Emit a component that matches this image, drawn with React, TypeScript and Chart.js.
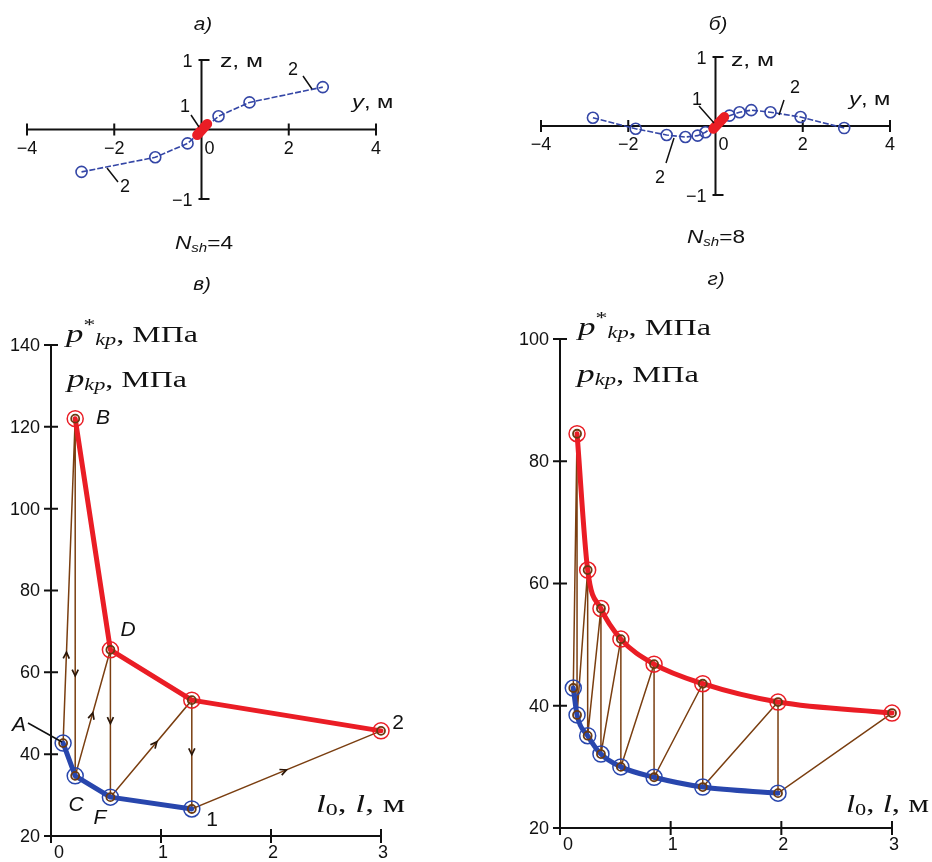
import React, { useEffect, useRef } from "react";
import { Chart, registerables } from "chart.js";
Chart.register(...registerables);

// ---------- Panel а (N_sh = 4): blade axis, y and z in m ----------
const bladeA_y = [-2.75, -1.06, -0.32, 0.39, 1.1, 2.78];
const bladeA_z = [-0.61, -0.4, -0.2, 0.19, 0.39, 0.61];
const hubA_y = [-0.1, 0.13];
const hubA_z = [-0.08, 0.08];

// ---------- Panel б (N_sh = 8) ----------
const bladeB_y = [-2.81, -1.83, -1.12, -0.69, -0.41, -0.23, 0.32, 0.55, 0.82, 1.26, 1.95, 2.95];
const bladeB_z = [0.12, -0.04, -0.13, -0.16, -0.14, -0.09, 0.15, 0.2, 0.23, 0.2, 0.13, -0.03];
const hubB_y = [-0.05, 0.2];
const hubB_z = [-0.04, 0.13];

const topTicksY = [-4, -2, 0, 2, 4];
const topTicksZ = [-1, 1];

// ---------- Panel в: p_kp(l0) (blue) and p*_kp(l) (red) ----------
const v_l0 = [0.11, 0.22, 0.54, 1.28];
const v_pkp = [42.7, 34.7, 29.5, 26.6];
const v_l = [0.22, 0.54, 1.28, 3.0];
const v_pkpStar = [122, 65.5, 53.2, 45.7];
const vTicksY = [20, 40, 60, 80, 100, 120, 140];

// ---------- Panel г ----------
const g_l0 = [0.12, 0.154, 0.25, 0.37, 0.55, 0.85, 1.29, 1.97];
const g_pkp = [42.9, 38.5, 35.1, 32.1, 30.0, 28.3, 26.7, 25.7];
const g_l = [0.154, 0.25, 0.37, 0.55, 0.85, 1.29, 1.97, 3.0];
const g_pkpStar = [84.5, 62.2, 55.9, 50.9, 46.8, 43.6, 40.6, 38.8];
const gTicksY = [20, 40, 60, 80, 100];

const bottomTicksX = [0, 1, 2, 3];

// ---------- styles ----------
const SANS = '"Liberation Sans", Arial, sans-serif';
const SERIF = '"Liberation Serif", "Times New Roman", serif';
const RED = "#ea1d25";
const BLUE_TOP = "#3446a6";
const BLUE = "#2846ad";
const BROWN = "#7a3e10";
const INK = "#111111";
const CLEAR = "rgba(0,0,0,0)";

type Seg = { t: string; f: string; dy?: number };

function rich(
  ctx: CanvasRenderingContext2D,
  segs: Seg[],
  x: number,
  y: number,
  opt: { w?: number; sx?: number; align?: "left" | "center" } = {}
) {
  let w = 0;
  for (const s of segs) {
    ctx.font = s.f;
    w += ctx.measureText(s.t).width;
  }
  const sx = opt.w ? opt.w / w : opt.sx || 1;
  ctx.save();
  ctx.translate(x, y);
  ctx.scale(sx, 1);
  ctx.textAlign = "left";
  ctx.textBaseline = "alphabetic";
  ctx.fillStyle = INK;
  let cx = opt.align === "center" ? -w / 2 : 0;
  for (const s of segs) {
    ctx.font = s.f;
    ctx.fillText(s.t, cx, s.dy || 0);
    cx += ctx.measureText(s.t).width;
  }
  ctx.restore();
}

function fmt(v: number) {
  return v < 0 ? "\u2212" + String(-v) : String(v);
}

function pts(xs: number[], ys: number[]) {
  return xs.map((x, i) => ({ x, y: ys[i] }));
}

function interleave(bx: number[], by: number[], rx: number[], ry: number[]) {
  const out: { x: number; y: number }[] = [];
  for (let i = 0; i < bx.length; i++) {
    out.push({ x: bx[i], y: by[i] });
    out.push({ x: rx[i], y: ry[i] });
  }
  return out;
}

function line(ctx: CanvasRenderingContext2D, x1: number, y1: number, x2: number, y2: number) {
  ctx.moveTo(x1, y1);
  ctx.lineTo(x2, y2);
}

function baseOptions(padding: any, xMin: number, xMax: number, yMin: number, yMax: number) {
  return {
    responsive: false,
    animation: false as const,
    events: [] as any[],
    layout: { padding },
    plugins: { legend: { display: false }, tooltip: { enabled: false }, title: { display: false } },
    scales: {
      x: { type: "linear" as const, min: xMin, max: xMax, display: false },
      y: { type: "linear" as const, min: yMin, max: yMax, display: false },
    },
  };
}

// ---------- top panels ----------
type TopSpec = {
  padding: any;
  bladeY: number[];
  bladeZ: number[];
  hubY: number[];
  hubZ: number[];
  title: string;
  titleX: number;
  titleY: number;
  nsh: string;
  nshX: number;
  nshY: number;
  zLab: [number, number];
  yLab: [number, number];
  labels: { t: string; x: number; y: number }[];
  leaders: number[][];
  xLabDy: number;
};

function topConfig(s: TopSpec): any {
  const plugin = {
    id: "topAxes",
    beforeDatasetsDraw(chart: any) {
      const ctx: CanvasRenderingContext2D = chart.ctx;
      const xs = chart.scales.x;
      const ys = chart.scales.y;
      const xc = xs.getPixelForValue(0);
      const yc = ys.getPixelForValue(0);
      ctx.save();
      ctx.strokeStyle = INK;
      ctx.lineWidth = 2;
      ctx.beginPath();
      line(ctx, xs.getPixelForValue(topTicksY[0]), yc, xs.getPixelForValue(topTicksY[topTicksY.length - 1]), yc);
      line(ctx, xc, ys.getPixelForValue(topTicksZ[1]), xc, ys.getPixelForValue(topTicksZ[0]));
      for (const t of topTicksY) {
        if (t === 0) continue;
        const px = xs.getPixelForValue(t);
        line(ctx, px, yc - 6, px, yc + 6);
      }
      for (const t of topTicksZ) {
        const py = ys.getPixelForValue(t);
        line(ctx, xc - 3, py, xc + 8, py);
      }
      ctx.stroke();
      ctx.fillStyle = INK;
      ctx.font = `18px ${SANS}`;
      ctx.textBaseline = "middle";
      ctx.textAlign = "center";
      for (const t of topTicksY) {
        const px = xs.getPixelForValue(t) + (t === 0 ? 8 : 0);
        ctx.fillText(fmt(t), px, yc + s.xLabDy);
      }
      ctx.textAlign = "right";
      for (const t of topTicksZ) {
        ctx.fillText(fmt(t), xc - 9, ys.getPixelForValue(t) + 2);
      }
      ctx.restore();
    },
    afterDatasetsDraw(chart: any) {
      const ctx: CanvasRenderingContext2D = chart.ctx;
      ctx.save();
      rich(ctx, [{ t: s.title, f: `italic 18px ${SANS}` }], s.titleX, s.titleY, { align: "center", sx: 1.15 });
      rich(ctx, [{ t: "z", f: `19px ${SANS}` }, { t: ", м", f: `19px ${SANS}` }], s.zLab[0], s.zLab[1], { sx: 1.3 });
      rich(ctx, [{ t: "y", f: `italic 19px ${SANS}` }, { t: ", м", f: `19px ${SANS}` }], s.yLab[0], s.yLab[1], { sx: 1.25 });
      rich(
        ctx,
        [
          { t: "N", f: `italic 18px ${SANS}` },
          { t: "sh", f: `italic 12px ${SANS}`, dy: 3 },
          { t: s.nsh, f: `18px ${SANS}` },
        ],
        s.nshX,
        s.nshY,
        { w: 58 }
      );
      ctx.fillStyle = INK;
      ctx.font = `18px ${SANS}`;
      ctx.textAlign = "center";
      ctx.textBaseline = "middle";
      for (const l of s.labels) ctx.fillText(l.t, l.x, l.y);
      ctx.strokeStyle = INK;
      ctx.lineWidth = 1.5;
      ctx.beginPath();
      for (const L of s.leaders) line(ctx, L[0], L[1], L[2], L[3]);
      ctx.stroke();
      ctx.restore();
    },
  };
  return {
    type: "scatter",
    data: {
      datasets: [
        {
          data: pts(s.hubY, s.hubZ),
          showLine: true,
          borderColor: RED,
          borderWidth: 10,
          borderCapStyle: "round",
          pointRadius: 0,
          clip: false,
          order: 1,
        },
        {
          data: pts(s.bladeY, s.bladeZ),
          showLine: true,
          borderColor: BLUE_TOP,
          borderWidth: 1.6,
          borderDash: [6, 2],
          pointRadius: 5.5,
          pointBorderWidth: 1.6,
          pointBorderColor: BLUE_TOP,
          pointBackgroundColor: CLEAR,
          clip: false,
          order: 2,
        },
      ],
    },
    options: baseOptions(s.padding, -4, 4, -1, 1),
    plugins: [plugin],
  };
}

// ---------- bottom panels ----------
type BotSpec = {
  padding: any;
  yMax: number;
  yTicks: number[];
  bx: number[];
  by: number[];
  rx: number[];
  ry: number[];
  smooth: boolean;
  title: string;
  titleX: number;
  titleY: number;
  pLab: [number, number, number, number, number, number];
  lLab: [number, number, number];
  xLabDy: number;
  letters: { t: string; x: number; y: number; italic: boolean }[];
  leaders: number[][];
  arrows: number[] | null;
};

function botConfig(s: BotSpec): any {
  const path = interleave(s.bx, s.by, s.rx, s.ry);
  const plugin = {
    id: "botAxes",
    beforeDatasetsDraw(chart: any) {
      const ctx: CanvasRenderingContext2D = chart.ctx;
      const xs = chart.scales.x;
      const ys = chart.scales.y;
      const xa = xs.getPixelForValue(0);
      const ya = ys.getPixelForValue(s.yTicks[0]);
      ctx.save();
      ctx.strokeStyle = INK;
      ctx.lineWidth = 2;
      ctx.beginPath();
      line(ctx, xa, ys.getPixelForValue(s.yMax), xa, ya);
      line(ctx, xa, ya, xs.getPixelForValue(bottomTicksX[bottomTicksX.length - 1]), ya);
      for (const t of s.yTicks) {
        const py = ys.getPixelForValue(t);
        line(ctx, xa - 7, py, xa + 7, py);
      }
      for (const t of bottomTicksX) {
        const px = xs.getPixelForValue(t);
        line(ctx, px, ya - 7, px, ya + 7);
      }
      ctx.stroke();
      ctx.fillStyle = INK;
      ctx.font = `18px ${SANS}`;
      ctx.textBaseline = "middle";
      ctx.textAlign = "right";
      for (const t of s.yTicks) ctx.fillText(fmt(t), xa - 11, ys.getPixelForValue(t) + 1);
      ctx.textAlign = "center";
      for (const t of bottomTicksX) {
        const px = xs.getPixelForValue(t) + (t === 0 ? 8 : 2);
        ctx.fillText(fmt(t), px, ya + s.xLabDy);
      }
      ctx.restore();
    },
    afterDatasetsDraw(chart: any) {
      const ctx: CanvasRenderingContext2D = chart.ctx;
      const xs = chart.scales.x;
      const ys = chart.scales.y;
      ctx.save();
      rich(ctx, [{ t: s.title, f: `italic 18px ${SANS}` }], s.titleX, s.titleY, { align: "center", sx: 1.15 });
      const P = s.pLab;
      rich(
        ctx,
        [
          { t: "p", f: `italic 25px ${SERIF}` },
          { t: "*", f: `17px ${SERIF}`, dy: -12 },
          { t: "kp", f: `italic 16px ${SERIF}`, dy: 3 },
          { t: ", МПа", f: `23px ${SERIF}` },
        ],
        P[0],
        P[1],
        { w: P[2] }
      );
      rich(
        ctx,
        [
          { t: "p", f: `italic 25px ${SERIF}` },
          { t: "kp", f: `italic 16px ${SERIF}`, dy: 3 },
          { t: ", МПа", f: `23px ${SERIF}` },
        ],
        P[3],
        P[4],
        { w: P[5] }
      );
      rich(
        ctx,
        [
          { t: "l", f: `italic 25px ${SERIF}` },
          { t: "0", f: `17px ${SERIF}`, dy: 3 },
          { t: ", ", f: `25px ${SERIF}` },
          { t: "l", f: `italic 25px ${SERIF}` },
          { t: ", м", f: `25px ${SERIF}` },
        ],
        s.lLab[0],
        s.lLab[1],
        { w: s.lLab[2] }
      );
      ctx.fillStyle = INK;
      ctx.textAlign = "center";
      ctx.textBaseline = "middle";
      for (const l of s.letters) {
        ctx.font = `${l.italic ? "italic " : ""}21px ${SANS}`;
        ctx.fillText(l.t, l.x, l.y);
      }
      ctx.strokeStyle = INK;
      ctx.lineWidth = 1.5;
      ctx.beginPath();
      for (const L of s.leaders) line(ctx, L[0], L[1], L[2], L[3]);
      ctx.stroke();
      if (s.arrows) {
        ctx.strokeStyle = "#2a1608";
        ctx.lineWidth = 1.7;
        ctx.beginPath();
        for (let i = 0; i < path.length - 1; i++) {
          const t = s.arrows[i];
          const x1 = xs.getPixelForValue(path[i].x);
          const y1 = ys.getPixelForValue(path[i].y);
          const x2 = xs.getPixelForValue(path[i + 1].x);
          const y2 = ys.getPixelForValue(path[i + 1].y);
          const x = x1 + (x2 - x1) * t;
          const y = y1 + (y2 - y1) * t;
          const a = Math.atan2(y2 - y1, x2 - x1);
          const L = 7;
          const sp = 0.45;
          ctx.moveTo(x - L * Math.cos(a - sp), y - L * Math.sin(a - sp));
          ctx.lineTo(x, y);
          ctx.lineTo(x - L * Math.cos(a + sp), y - L * Math.sin(a + sp));
        }
        ctx.stroke();
      }
      ctx.restore();
    },
  };
  const curve = (xs: number[], ys: number[], color: string, order: number) => ({
    data: pts(xs, ys),
    showLine: true,
    borderColor: color,
    borderWidth: 5,
    borderCapStyle: "round",
    borderJoinStyle: "round",
    cubicInterpolationMode: s.smooth ? "monotone" : "default",
    tension: 0,
    pointRadius: 8,
    pointBorderWidth: 1.5,
    pointBorderColor: color,
    pointBackgroundColor: CLEAR,
    clip: false,
    order,
  });
  return {
    type: "scatter",
    data: {
      datasets: [
        {
          data: path,
          showLine: true,
          borderColor: BROWN,
          borderWidth: 1.5,
          pointRadius: 0,
          clip: false,
          order: 4,
        },
        curve(s.bx, s.by, BLUE, 3),
        curve(s.rx, s.ry, RED, 2),
        {
          data: path,
          showLine: false,
          pointRadius: 4,
          pointBorderWidth: 1.8,
          pointBorderColor: "#6a3a12",
          pointBackgroundColor: CLEAR,
          clip: false,
          order: 1,
        },
      ],
    },
    options: baseOptions(s.padding, 0, 3, s.yTicks[0], s.yMax),
    plugins: [plugin],
  };
}

export default function App() {
  const r0 = useRef<HTMLCanvasElement>(null);
  const r1 = useRef<HTMLCanvasElement>(null);
  const r2 = useRef<HTMLCanvasElement>(null);
  const r3 = useRef<HTMLCanvasElement>(null);

  useEffect(() => {
    const charts: Chart[] = [];
    charts.push(
      new Chart(
        r0.current!,
        topConfig({
          padding: { left: 27, right: 556, top: 60, bottom: 663 },
          bladeY: bladeA_y,
          bladeZ: bladeA_z,
          hubY: hubA_y,
          hubZ: hubA_z,
          title: "а)",
          titleX: 203,
          titleY: 30,
          nsh: "=4",
          nshX: 175,
          nshY: 249,
          zLab: [220, 67],
          yLab: [352, 108],
          labels: [
            { t: "1", x: 185, y: 107 },
            { t: "2", x: 293, y: 70 },
            { t: "2", x: 125, y: 187 },
          ],
          leaders: [
            [191, 115, 199, 127],
            [303, 76, 312, 89],
            [107, 168, 118, 182],
          ],
          xLabDy: 20,
        })
      )
    );
    charts.push(
      new Chart(
        r1.current!,
        topConfig({
          padding: { left: 541, right: 42, top: 57, bottom: 667 },
          bladeY: bladeB_y,
          bladeZ: bladeB_z,
          hubY: hubB_y,
          hubZ: hubB_z,
          title: "б)",
          titleX: 718,
          titleY: 30,
          nsh: "=8",
          nshX: 687,
          nshY: 243,
          zLab: [731, 66],
          yLab: [849, 105],
          labels: [
            { t: "1", x: 697, y: 100 },
            { t: "2", x: 795, y: 88 },
            { t: "2", x: 660, y: 178 },
          ],
          leaders: [
            [699, 106, 714, 123],
            [784, 100, 779, 115],
            [666, 163, 674, 138],
          ],
          xLabDy: 19,
        })
      )
    );
    charts.push(
      new Chart(
        r2.current!,
        botConfig({
          padding: { left: 51, right: 551, top: 345, bottom: 26 },
          yMax: 140,
          yTicks: vTicksY,
          bx: v_l0,
          by: v_pkp,
          rx: v_l,
          ry: v_pkpStar,
          smooth: false,
          title: "в)",
          titleX: 202,
          titleY: 290,
          pLab: [66, 342, 132, 67, 387, 120],
          lLab: [316, 812, 89],
          xLabDy: 17,
          letters: [
            { t: "B", x: 103, y: 418, italic: true },
            { t: "D", x: 128, y: 630, italic: true },
            { t: "A", x: 19, y: 725, italic: true },
            { t: "C", x: 76, y: 805, italic: true },
            { t: "F", x: 100, y: 818, italic: true },
            { t: "1", x: 212, y: 820, italic: false },
            { t: "2", x: 398, y: 723, italic: false },
          ],
          leaders: [[28, 723, 62, 742]],
          arrows: [0.28, 0.72, 0.5, 0.5, 0.57, 0.5, 0.5],
        })
      )
    );
    charts.push(
      new Chart(
        r3.current!,
        botConfig({
          padding: { left: 560, right: 40, top: 339, bottom: 34 },
          yMax: 100,
          yTicks: gTicksY,
          bx: g_l0,
          by: g_pkp,
          rx: g_l,
          ry: g_pkpStar,
          smooth: true,
          title: "г)",
          titleX: 716,
          titleY: 285,
          pLab: [578, 335, 133, 577, 382, 122],
          lLab: [846, 812, 83],
          xLabDy: 17,
          letters: [],
          leaders: [],
          arrows: null,
        })
      )
    );
    return () => charts.forEach((c) => c.destroy());
  }, []);

  const cs: React.CSSProperties = { position: "absolute", left: 0, top: 0 };
  return (
    <div style={{ position: "absolute", left: 0, top: 0, width: 932, height: 862, background: "#ffffff", overflow: "hidden" }}>
      <canvas ref={r0} width={932} height={862} style={cs} />
      <canvas ref={r1} width={932} height={862} style={cs} />
      <canvas ref={r2} width={932} height={862} style={cs} />
      <canvas ref={r3} width={932} height={862} style={cs} />
    </div>
  );
}
